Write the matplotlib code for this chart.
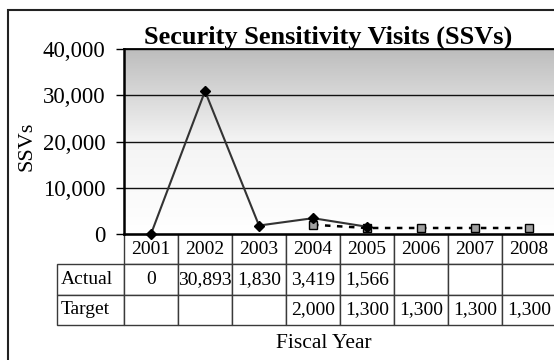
import numpy as np
import matplotlib
matplotlib.use("Agg")
import matplotlib.pyplot as plt
from matplotlib.patches import Rectangle
from matplotlib.table import Table
from matplotlib.colors import LinearSegmentedColormap

plt.rcParams['font.family'] = ['Liberation Serif', 'DejaVu Serif']

# --- data ---
years = ['2001', '2002', '2003', '2004', '2005', '2006', '2007', '2008']
actual = [0, 30893, 1830, 3419, 1566]          # 2001-2005
target = [2000, 1300, 1300, 1300, 1300]        # 2004-2008
target_start = 3
yticks = [0, 10000, 20000, 30000, 40000]

W, H = 554, 360
fig = plt.figure(figsize=(W / 100, H / 100), dpi=100)

# plot area in pixels: left 124, top 49, bottom 234, 8 columns of 54 px
ax = fig.add_axes([124 / W, 1 - 234 / H, 432 / W, 185 / H])
n = len(years)
ax.set_xlim(-0.5, n - 0.5)
ax.set_ylim(0, 40000)

# gray-to-white gradient background
grad = np.linspace(0, 1, 256).reshape(-1, 1)
cmap = LinearSegmentedColormap.from_list('bg', ['#ffffff', '#f4f4f4', '#bdbdbd'])
ax.imshow(grad, cmap=cmap, origin='lower', aspect='auto',
          extent=(-0.5, n - 0.5, 0, 40000), zorder=0)

for y in yticks[1:]:
    ax.axhline(y, color='#111111', lw=1.0, zorder=1)

x_act = np.arange(len(actual))
ax.plot(x_act, actual, color='#333333', lw=1.5, marker='D', ms=5.5,
        mfc='black', mec='black', zorder=6, clip_on=False)
x_tgt = np.arange(target_start, target_start + len(target))
ax.plot(x_tgt, target, color='black', lw=1.8, ls=(0, (2.2, 2.6)),
        marker='s', ms=5.5, mfc='#a0a0a0', mec='black', mew=1.0, zorder=5)

ax.set_yticks(yticks)
ax.set_yticklabels([f'{v:,}' for v in yticks], fontsize=16.5)
ax.tick_params(axis='y', length=6, width=1, direction='out', pad=7.5)
ax.set_xticks([])
ax.spines['right'].set_visible(False)
ax.spines['left'].set_linewidth(1.8)
ax.spines['bottom'].set_linewidth(1.8)
ax.spines['top'].set_linewidth(1.3)

# --- data table under the plot ---
lab_w = 67 / 54 / n
row_h = 1.0
tab_h = 91 / 185
# bbox covers the year columns only; the label column sits to its left
tbl = Table(ax, bbox=[0, -tab_h, 1, tab_h])
tbl.auto_set_font_size(False)
rows = [('Actual', actual, 0), ('Target', target, target_start)]
for c, yr in enumerate(years):
    tbl.add_cell(0, c, width=1 / n, height=row_h, text=yr, loc='center')
for r, (name, vals, start) in enumerate(rows, start=1):
    tbl.add_cell(r, -1, width=lab_w, height=row_h, text=name, loc='left')
    for c in range(n):
        i = c - start
        txt = f'{vals[i]:,}' if 0 <= i < len(vals) else ''
        tbl.add_cell(r, c, width=1 / n, height=row_h, text=txt, loc='center')
for (r, c), cell in tbl.get_celld().items():
    cell.set_edgecolor('#3a3a3a')
    cell.set_linewidth(1.0)
    cell.set_facecolor('white')
    cell.get_text().set_fontsize(14)
    if c == -1:
        cell.PAD = 0.05
tbl.set_fontsize(14)
tbl.set_zorder(2)
ax.add_table(tbl)

fig.text(328 / W, 1 - 37 / H, 'Security Sensitivity Visits (SSVs)',
         ha='center', va='center', fontsize=19, fontweight='bold')
fig.text(27 / W, 1 - 146 / H, 'SSVs', rotation=90, ha='center', va='center',
         fontsize=16)
fig.text(324 / W, 1 - 343 / H, 'Fiscal Year', ha='center', va='center',
         fontsize=15.5)

fig.add_artist(Rectangle((8 / W, -0.1), 1.2, 1 - 10 / H + 0.1,
                         transform=fig.transFigure, fill=False,
                         ec='#222222', lw=1.5))

fig.savefig('out.png', dpi=100)
